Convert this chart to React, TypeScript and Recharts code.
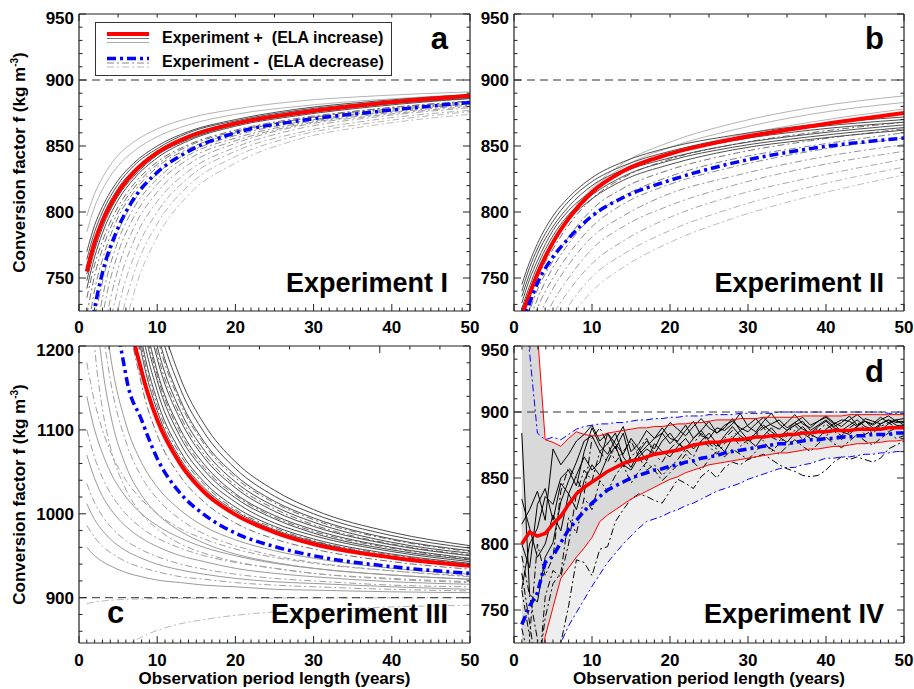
import React from "react";
import { ComposedChart, Line, Area, XAxis, YAxis, ReferenceLine, Legend } from "recharts";

const FONT = '"Liberation Sans", Arial, Helvetica, sans-serif';
const FRAME = "#222";
const AXIS_LINE = { stroke: FRAME, strokeWidth: 1.2 };
const DASH_DOT = "7 3 2 3";
const BLUE_DASH = "9 4 3 4";

// ticks
const X_TICKS = Array.from({ length: 51 }, (_, i) => i);
const Y_TICKS_F = Array.from({ length: 23 }, (_, i) => 730 + i * 10);
const Y_TICKS_C = Array.from({ length: 18 }, (_, i) => 860 + i * 20);

// ---------- panel a (Experiment I) ----------
const X_AB = [1, 2, 3, 5, 7, 10, 14, 20, 28, 38, 50];

const A_RED = [755, 777, 793, 815, 830, 845, 857, 867, 875, 882, 888];
const A_BLUE = [689, 727, 754, 788, 810, 830, 846, 860, 869, 876, 883];
const A_PLUS_DARK = [
  [770, 790, 804, 824, 837, 850, 861, 870, 878, 884, 889],
  [764, 785, 800, 821, 835, 848, 860, 869, 877, 883, 888],
  [759, 780, 796, 818, 832, 846, 858, 868, 876, 882, 888],
  [753, 776, 792, 815, 830, 845, 857, 867, 875, 882, 887],
  [748, 771, 788, 812, 827, 843, 855, 866, 874, 881, 886],
  [742, 766, 784, 809, 825, 841, 854, 865, 873, 880, 886],
];
const A_PLUS_LIGHT = [
  [797, 814, 826, 843, 853, 863, 871, 878, 884, 888, 891],
  [785, 804, 817, 835, 846, 857, 866, 874, 880, 885, 889],
];
const A_MINUS = [
  [735, 760, 778, 804, 821, 838, 851, 862, 871, 878, 884],
  [722, 752, 772, 800, 818, 836, 850, 861, 870, 878, 884],
  [704, 741, 764, 796, 815, 834, 848, 860, 870, 877, 883],
  [665, 716, 747, 785, 808, 829, 845, 858, 868, 876, 882],
  [638, 699, 735, 778, 803, 825, 843, 856, 867, 875, 882],
  [603, 677, 720, 769, 796, 821, 840, 854, 866, 874, 881],
  [559, 650, 700, 757, 788, 815, 836, 852, 865, 873, 880],
  [507, 617, 677, 743, 778, 808, 831, 849, 863, 872, 879],
  [445, 578, 649, 726, 766, 800, 826, 846, 860, 870, 877],
  [375, 534, 618, 707, 753, 791, 820, 842, 858, 868, 876],
  [296, 484, 583, 686, 738, 781, 813, 837, 855, 866, 874],
];

// ---------- panel b (Experiment II) ----------
const B_RED = [722, 738, 753, 777, 795, 815, 831, 844, 855, 865, 875];
const B_BLUE = [715, 731, 746, 766, 780, 797, 811, 824, 837, 848, 856];
const B_PLUS_DARK = [
  [745, 762, 776, 797, 811, 826, 838, 849, 858, 866, 872],
  [740, 758, 772, 793, 808, 823, 835, 846, 856, 864, 870],
  [736, 753, 768, 789, 804, 820, 832, 844, 854, 862, 868],
  [731, 749, 763, 786, 801, 816, 830, 841, 851, 859, 866],
  [727, 744, 759, 782, 798, 813, 827, 839, 849, 857, 864],
  [722, 740, 755, 778, 794, 810, 824, 836, 847, 855, 862],
];
const B_PLUS_LIGHT = [
  [715, 735, 752, 778, 797, 818, 837, 853, 867, 879, 888],
  [718, 738, 754, 779, 797, 817, 834, 849, 862, 874, 883],
  [720, 740, 755, 779, 796, 815, 831, 845, 857, 868, 878],
];
const B_MINUS = [
  [718, 735, 750, 772, 790, 810, 826, 840, 851, 860, 868],
  [706, 725, 741, 763, 781, 802, 818, 832, 844, 854, 863],
  [698, 718, 734, 758, 776, 796, 812, 827, 840, 850, 860],
  [689, 710, 727, 750, 768, 789, 806, 821, 834, 846, 856],
  [677, 699, 717, 742, 760, 781, 797, 814, 827, 840, 851],
  [664, 688, 707, 732, 750, 772, 789, 805, 820, 834, 846],
  [649, 676, 695, 722, 740, 761, 778, 796, 812, 826, 840],
  [635, 663, 684, 711, 729, 751, 768, 786, 803, 819, 834],
  [620, 650, 672, 700, 718, 740, 758, 777, 795, 812, 828],
];

// ---------- panel c (Experiment III) ----------
const X_C = [1, 2, 3, 4, 6, 8, 10, 13, 16, 20, 25, 30, 40, 50];

const C_RED = [null, null, 2120, 1500, 1265, 1170, 1112, 1059, 1026, 999, 978, 964, 948, 938];
const C_BLUE = [null, null, 1853, 1330, 1165, 1112, 1066, 1024, 999, 977, 961, 950, 937, 929];
const C_UPPER_SOLID = [
  [null, null, 2167, 1660, 1322, 1192, 1123, 1065, 1031, 1003, 981, 967, 949, 939],
  [null, null, 2233, 1700, 1344, 1208, 1135, 1074, 1038, 1008, 985, 970, 952, 941],
  [null, null, 2300, 1740, 1367, 1223, 1147, 1083, 1045, 1014, 989, 974, 955, 943],
  [null, null, 2367, 1780, 1389, 1238, 1159, 1091, 1052, 1019, 994, 977, 957, 945],
  [null, null, 2433, 1820, 1411, 1254, 1170, 1100, 1059, 1024, 998, 981, 960, 947],
  [null, null, 2513, 1868, 1438, 1272, 1185, 1111, 1067, 1031, 1003, 985, 963, 950],
  [null, null, 2600, 1920, 1467, 1292, 1200, 1122, 1076, 1038, 1009, 990, 966, 953],
  [null, null, 2700, 1980, 1500, 1315, 1218, 1135, 1086, 1046, 1015, 995, 970, 956],
  [null, null, 2800, 2040, 1533, 1338, 1235, 1148, 1097, 1054, 1021, 1000, 974, 959],
  [null, null, 2900, 2100, 1567, 1361, 1253, 1161, 1107, 1062, 1028, 1005, 978, 962],
];
const C_UPPER_DASH = [
  [null, null, 2000, 1560, 1267, 1154, 1094, 1044, 1014, 989, 970, 958, 943, 934],
  [null, null, 2200, 1680, 1333, 1200, 1129, 1070, 1035, 1005, 983, 968, 951, 940],
  [null, null, 2400, 1800, 1400, 1246, 1165, 1096, 1055, 1022, 996, 979, 959, 946],
  [null, null, 2553, 1892, 1451, 1281, 1192, 1116, 1071, 1034, 1006, 987, 964, 951],
  [null, null, 2667, 1960, 1489, 1308, 1212, 1131, 1083, 1043, 1013, 993, 969, 955],
];
const C_LOWER_SOLID = [
  [1450, 1267, 1175, 1120, 1057, 1022, 1000, 979, 965, 952, 942, 935, 927, 922],
  [1625, 1383, 1263, 1190, 1107, 1061, 1032, 1004, 985, 969, 956, 947, 935, 928],
  [1140, 1100, 1072, 1050, 1020, 1000, 986, 971, 960, 950, 941, 935, 927, 922],
  [1070, 1042, 1021, 1006, 985, 971, 961, 950, 943, 935, 929, 925, 919, 916],
  [1012, 993, 980, 970, 956, 947, 940, 933, 928, 923, 919, 917, 913, 910],
  [960, 950, 943, 938, 930, 925, 921, 918, 915, 913, 910, 909, 907, 906],
];
const C_LOWER_DASH = [
  [1550, 1333, 1225, 1160, 1086, 1044, 1018, 993, 976, 962, 950, 942, 932, 925],
  [1350, 1200, 1125, 1080, 1029, 1000, 982, 964, 953, 943, 935, 929, 922, 918],
  [1180, 1133, 1100, 1075, 1040, 1017, 1000, 982, 970, 958, 948, 941, 932, 926],
  [1100, 1067, 1043, 1025, 1000, 983, 971, 959, 950, 942, 935, 929, 923, 919],
  [1036, 1013, 997, 985, 968, 957, 949, 940, 934, 928, 923, 920, 915, 913],
  [986, 972, 961, 954, 943, 936, 931, 925, 922, 918, 915, 913, 910, 908],
];
const C_BELOW = [
  [893, 895, 896, 897, 898, 898.5, 899, 899.2, 899.4, 899.5, 899.6, 899.7, 899.8, 899.9],
  [745, 784, 807, 822, 842, 853, 861, 869, 874, 879, 883, 885, 889, 891],
];

// ---------- panel d (Experiment IV) ----------
const X_D = [
  1, 2, 3, 4, 5, 6, 7, 8, 9, 10, 11, 12, 13, 14, 15, 16, 17, 18, 19, 20, 21, 22, 23, 24, 25,
  26, 27, 28, 29, 30, 31, 32, 33, 34, 35, 36, 37, 38, 39, 40, 41, 42, 43, 44, 45, 46, 47, 48, 49, 50,
];
const D_RED = [800, 809, 806, 808, 815, 821, 830, 838, 843, 847, 851, 855, 858, 861, 863, 864, 866, 868, 869, 870, 871, 873, 875, 876, 877, 877, 878, 879, 879, 880, 881, 881, 882, 882, 883, 883, 884, 884, 885, 885, 886, 886, 886, 887, 887, 887, 887, 888, 888, 888];
const D_BLUE = [739, 753, 763, 786, 791, 801, 811, 818, 825, 831, 836, 841, 844, 847, 850, 852, 854, 856, 857, 859, 860, 862, 863, 865, 866, 867, 869, 870, 871, 872, 873, 874, 875, 876, 876, 877, 878, 879, 879, 880, 880, 881, 881, 882, 882, 883, 883, 883, 884, 884];
const D_RED_HI = [1050, 1000, 960, 879, 877, 874, 880, 885, 883, 882, 882, 884, 885, 886, 887, 888, 888, 889, 889, 890, 891, 891, 892, 892, 893, 894, 894, 894, 895, 895, 895, 896, 896, 896, 896, 896, 897, 897, 897, 897, 897, 897, 898, 898, 898, 898, 898, 898, 898, 898];
const D_RED_LO = [600, 650, 690, 730, 752, 774, 782, 790, 797, 805, 817, 822, 826, 830, 834, 837, 840, 843, 846, 849, 851, 854, 856, 858, 860, 861, 862, 863, 864, 865, 866, 867, 868, 869, 869, 870, 871, 872, 872, 873, 874, 874, 875, 876, 876, 877, 877, 878, 878, 879];
const D_BLUE_HI = [1000, 945, 884, 879, 881, 879, 883, 887, 889, 890, 891, 891, 892, 892, 893, 894, 894, 895, 895, 896, 896, 897, 897, 897, 898, 898, 898, 898, 899, 899, 899, 899, 899, 900, 900, 900, 900, 900, 900, 900, 900, 900, 900, 900, 900, 900, 900, 899, 899, 899];
const D_BLUE_LO = [560, 600, 640, 670, 700, 725, 738, 748, 758, 768, 777, 786, 793, 800, 806, 812, 817, 819, 821, 824, 826, 829, 831, 834, 837, 840, 842, 844, 846, 849, 851, 853, 855, 857, 858, 858, 860, 861, 863, 865, 865, 866, 866, 867, 868, 868, 869, 869, 870, 870];
// single glaciers (black)
const D_OBS_SOLID = [
  [884, 762, 756, 790, 801, 832, 848, 862, 878, 882, 870, 876, 884, 866, 858, 870, 878, 872, 884, 876, 882, 890, 880, 886, 893, 884, 888, 895, 886, 890, 895, 888, 891, 894, 888, 892, 896, 890, 893, 896, 891, 894, 893, 889, 895, 893, 891, 894, 892, 893],
  [815, 826, 840, 818, 872, 860, 868, 878, 883, 890, 878, 884, 872, 884, 862, 868, 874, 880, 888, 880, 878, 886, 893, 882, 880, 888, 886, 891, 899, 889, 885, 893, 899, 891, 886, 890, 893, 886, 890, 894, 889, 892, 897, 890, 893, 891, 896, 892, 894, 895],
  [800, 782, 830, 842, 818, 846, 838, 852, 866, 856, 862, 884, 876, 868, 880, 872, 863, 876, 870, 866, 874, 880, 872, 878, 884, 876, 870, 880, 886, 879, 874, 882, 888, 881, 877, 884, 889, 883, 880, 887, 891, 885, 883, 889, 893, 888, 886, 891, 894, 890],
  [766, 800, 812, 836, 830, 850, 856, 844, 870, 888, 875, 868, 879, 889, 870, 876, 886, 880, 884, 892, 887, 882, 889, 895, 888, 884, 890, 893, 888, 885, 891, 896, 890, 887, 892, 898, 891, 888, 893, 897, 892, 889, 894, 898, 893, 890, 894, 897, 893, 892],
  [834, 812, 790, 800, 822, 810, 838, 826, 848, 860, 852, 866, 874, 860, 856, 866, 872, 868, 878, 884, 876, 872, 880, 886, 878, 874, 882, 889, 882, 878, 884, 890, 885, 881, 886, 892, 887, 884, 889, 893, 888, 886, 890, 894, 889, 887, 891, 894, 890, 889],
];
const D_OBS_DASH = [
  [791, 761, 728, 700, 715, 725, 753, 788, 786, 776, 796, 798, 817, 826, 834, 838, 836, 833, 831, 840, 849, 846, 842, 851, 856, 850, 858, 862, 860, 864, 866, 868, 864, 860, 857, 855, 852, 851, 852, 856, 862, 866, 864, 866, 864, 862, 865, 872, 875, 878],
  [765, 730, 800, 776, 790, 840, 858, 850, 838, 880, 888, 876, 862, 870, 878, 866, 856, 860, 852, 858, 864, 872, 866, 878, 874, 868, 876, 882, 874, 879, 884, 878, 870, 876, 882, 886, 879, 883, 888, 882, 886, 879, 885, 889, 883, 886, 890, 885, 888, 889],
  [778, 740, 700, 744, 770, 778, 820, 808, 835, 826, 848, 840, 852, 860, 846, 855, 862, 856, 848, 854, 860, 868, 862, 856, 864, 870, 866, 872, 868, 864, 870, 876, 872, 868, 874, 879, 874, 870, 876, 881, 876, 873, 878, 883, 878, 875, 880, 884, 880, 882],
  [736, 710, 690, 760, 780, 775, 800, 838, 856, 848, 870, 862, 874, 858, 866, 872, 880, 868, 862, 872, 878, 870, 876, 884, 876, 872, 880, 886, 880, 876, 883, 888, 881, 878, 884, 890, 884, 880, 886, 891, 886, 882, 888, 892, 887, 884, 889, 892, 888, 890],
];

type Series = (number | null)[];

function family(prefix: string, list: Series[]) {
  const out: Record<string, Series> = {};
  list.forEach((s, i) => (out[`${prefix}${i}`] = s));
  return out;
}

function buildRows(xs: number[], series: Record<string, Series>) {
  return xs.map((x, i) => {
    const r: Record<string, any> = { x };
    Object.keys(series).forEach((k) => (r[k] = series[k][i]));
    return r;
  });
}

const dataA = buildRows(X_AB, {
  red: A_RED,
  blue: A_BLUE,
  ...family("pd", A_PLUS_DARK),
  ...family("pl", A_PLUS_LIGHT),
  ...family("m", A_MINUS),
});
const dataB = buildRows(X_AB, {
  red: B_RED,
  blue: B_BLUE,
  ...family("pd", B_PLUS_DARK),
  ...family("pl", B_PLUS_LIGHT),
  ...family("m", B_MINUS),
});
const dataC = buildRows(X_C, {
  red: C_RED,
  blue: C_BLUE,
  ...family("us", C_UPPER_SOLID),
  ...family("ud", C_UPPER_DASH),
  ...family("ls", C_LOWER_SOLID),
  ...family("ld", C_LOWER_DASH),
  ...family("bw", C_BELOW),
});
const dataD = buildRows(X_D, {
  red: D_RED,
  blue: D_BLUE,
  redHi: D_RED_HI,
  redLo: D_RED_LO,
  blueHi: D_BLUE_HI,
  blueLo: D_BLUE_LO,
  ...family("os", D_OBS_SOLID),
  ...family("od", D_OBS_DASH),
}).map((r, i) => ({
  ...r,
  lightBand: [D_BLUE_LO[i], D_BLUE_HI[i]],
  darkBand: [D_RED_LO[i], D_RED_HI[i]],
}));

function curve(
  key: string,
  color: string,
  width = 1,
  dash?: string,
  type: "monotone" | "linear" = "monotone"
) {
  return (
    <Line
      key={key}
      xAxisId="b"
      yAxisId="l"
      dataKey={key}
      type={type}
      stroke={color}
      strokeWidth={width}
      strokeDasharray={dash}
      dot={false}
      activeDot={false}
      legendType="none"
      isAnimationActive={false}
    />
  );
}

const labelStyle = { fontFamily: FONT, fontWeight: 700, fontSize: 17, fill: "#000" };

const xTick = (labels: boolean, dy: number, dir: number) => (p: any) => {
  const v = p.payload.value;
  const major = v % 10 === 0;
  const len = major ? 7 : 3.5;
  return (
    <g>
      <line x1={p.x} x2={p.x} y1={p.y} y2={p.y - dir * len} stroke={FRAME} strokeWidth={1} />
      {labels && major && (
        <text x={p.x} y={p.y + dy} textAnchor="middle" style={labelStyle}>
          {v}
        </text>
      )}
    </g>
  );
};

const yTick = (labels: boolean, step: number, top: number, dir: number) => (p: any) => {
  const v = p.payload.value;
  const major = v % step === 0;
  const len = major ? 7 : 3.5;
  return (
    <g>
      <line x1={p.x} x2={p.x + dir * len} y1={p.y} y2={p.y} stroke={FRAME} strokeWidth={1} />
      {labels && major && (
        <text x={p.x - 5} y={p.y + (v === top ? 10 : 6)} textAnchor="end" style={labelStyle}>
          {v}
        </text>
      )}
    </g>
  );
};

type PanelProps = {
  left: number;
  top: number;
  width: number;
  height: number;
  yW: number;
  xH: number;
  mTop: number;
  data: any[];
  yDomain: [number, number];
  yTicks: number[];
  yMajor: number;
  xLabelDy: number;
  clip?: string;
  children: React.ReactNode;
};

function Panel(props: PanelProps) {
  const { left, top, width, height, yW, xH, mTop, data, yDomain, yTicks, yMajor, xLabelDy, clip, children } = props;
  return (
    <div style={{ position: "absolute", left, top, width, height, clipPath: clip }}>
      <ComposedChart width={width} height={height} data={data} margin={{ top: mTop, right: 10, bottom: 0, left: 0 }}>
        <XAxis
          xAxisId="b"
          dataKey="x"
          type="number"
          domain={[0, 50]}
          ticks={X_TICKS}
          interval={0}
          allowDataOverflow
          height={xH}
          tickSize={0}
          tickMargin={0}
          tickLine={false}
          axisLine={AXIS_LINE}
          tick={xTick(true, xLabelDy, 1)}
        />
        <XAxis
          xAxisId="t"
          orientation="top"
          type="number"
          domain={[0, 50]}
          ticks={X_TICKS}
          interval={0}
          allowDataOverflow
          height={1}
          tickSize={0}
          tickMargin={0}
          tickLine={false}
          axisLine={AXIS_LINE}
          tick={xTick(false, 0, -1)}
        />
        <YAxis
          yAxisId="l"
          type="number"
          domain={yDomain}
          ticks={yTicks}
          interval={0}
          allowDataOverflow
          width={yW}
          tickSize={0}
          tickMargin={0}
          tickLine={false}
          axisLine={AXIS_LINE}
          tick={yTick(true, yMajor, yDomain[1], 1)}
        />
        <YAxis
          yAxisId="r"
          orientation="right"
          type="number"
          domain={yDomain}
          ticks={yTicks}
          interval={0}
          allowDataOverflow
          width={1}
          tickSize={0}
          tickMargin={0}
          tickLine={false}
          axisLine={AXIS_LINE}
          tick={yTick(false, yMajor, yDomain[1], -1)}
        />
        {children}
        <ReferenceLine xAxisId="b" yAxisId="l" y={900} stroke="#333" strokeWidth={1} strokeDasharray="8 5" />
      </ComposedChart>
    </div>
  );
}

function LegendBox() {
  const t = { fontFamily: FONT, fontWeight: 700, fontSize: 16, fill: "#000", whiteSpace: "pre" as const };
  return (
    <div style={{ width: 297, height: 54, border: "1px solid #333", background: "#fff", boxSizing: "border-box" }}>
      <svg width={295} height={52}>
        <line x1={11} x2={53} y1={11} y2={11} stroke="#ff0000" strokeWidth={4} />
        <line x1={11} x2={53} y1={15.5} y2={15.5} stroke="#777" strokeWidth={1} />
        <line x1={11} x2={53} y1={19.5} y2={19.5} stroke="#aaa" strokeWidth={1} />
        <text x={66} y={19.5} style={t}>
          {"Experiment +  (ELA increase)"}
        </text>
        <line x1={11} x2={53} y1={35.5} y2={35.5} stroke="#0000ff" strokeWidth={3.5} strokeDasharray={BLUE_DASH} />
        <line x1={11} x2={53} y1={40} y2={40} stroke="#888" strokeWidth={1} strokeDasharray={DASH_DOT} />
        <line x1={11} x2={53} y1={44} y2={44} stroke="#bbb" strokeWidth={1} strokeDasharray={DASH_DOT} />
        <text x={66} y={44} style={t}>
          {"Experiment -  (ELA decrease)"}
        </text>
      </svg>
    </div>
  );
}

function minusShade(i: number, n: number) {
  const g = Math.round(110 + (i / Math.max(1, n - 1)) * 80);
  return `rgb(${g},${g},${g})`;
}

export default function App() {
  const txt = { fontFamily: FONT, fontWeight: 700, fill: "#000" };
  return (
    <div style={{ position: "absolute", left: 0, top: 0, width: 914, height: 689, background: "#fff", overflow: "hidden" }}>
      {/* a */}
      <Panel left={0} top={0} width={481} height={342} yW={79} xH={31} mTop={13} data={dataA}
        yDomain={[725, 950]} yTicks={Y_TICKS_F} yMajor={50} xLabelDy={22}>
        {A_MINUS.map((_, i) => curve(`m${i}`, minusShade(i, A_MINUS.length), 1, DASH_DOT))}
        {A_PLUS_LIGHT.map((_, i) => curve(`pl${i}`, "#b4b4b4", 1))}
        {A_PLUS_DARK.map((_, i) => curve(`pd${i}`, "#505050", 1))}
        {curve("red", "#ff0000", 4)}
        {curve("blue", "#0000ff", 3.5, BLUE_DASH)}
        <Legend
          layout="vertical"
          align="center"
          verticalAlign="middle"
          wrapperStyle={{ left: 95, top: 22, width: 297, height: 54 }}
          content={() => <LegendBox />}
        />
      </Panel>
      {/* b */}
      <Panel left={440} top={0} width={475} height={342} yW={74} xH={31} mTop={13} data={dataB}
        yDomain={[725, 950]} yTicks={Y_TICKS_F} yMajor={50} xLabelDy={22}>
        {B_MINUS.map((_, i) => curve(`m${i}`, minusShade(i, B_MINUS.length), 1, DASH_DOT))}
        {B_PLUS_LIGHT.map((_, i) => curve(`pl${i}`, "#b4b4b4", 1))}
        {B_PLUS_DARK.map((_, i) => curve(`pd${i}`, "#505050", 1))}
        {curve("red", "#ff0000", 4)}
        {curve("blue", "#0000ff", 3.5, BLUE_DASH)}
      </Panel>
      {/* c */}
      <Panel left={0} top={330} width={481} height={359} yW={79} xH={46} mTop={15} data={dataC}
        yDomain={[846, 1200]} yTicks={Y_TICKS_C} yMajor={100} xLabelDy={23}>
        {C_BELOW.map((_, i) => curve(`bw${i}`, "#b8b8b8", 1, DASH_DOT))}
        {C_LOWER_DASH.map((_, i) => curve(`ld${i}`, "#a0a0a0", 1, DASH_DOT))}
        {C_LOWER_SOLID.map((_, i) => curve(`ls${i}`, "#9a9a9a", 1))}
        {C_UPPER_DASH.map((_, i) => curve(`ud${i}`, "#6e6e6e", 1, DASH_DOT))}
        {C_UPPER_SOLID.map((_, i) => curve(`us${i}`, "#4a4a4a", 1))}
        {curve("red", "#ff0000", 4)}
        {curve("blue", "#0000ff", 3.5, BLUE_DASH)}
      </Panel>
      {/* d */}
      <Panel left={440} top={330} width={475} height={359} yW={74} xH={46} mTop={15} data={dataD}
        yDomain={[725, 950]} yTicks={Y_TICKS_F} yMajor={50} xLabelDy={23}
        clip="polygon(0px 0px, 466px 0px, 466px 308px, 475px 308px, 475px 359px, 0px 359px)">
        <Area xAxisId="b" yAxisId="l" dataKey="lightBand" type="linear" stroke="none" fill="#eeeeee"
          fillOpacity={1} dot={false} activeDot={false} legendType="none" isAnimationActive={false} />
        <Area xAxisId="b" yAxisId="l" dataKey="darkBand" type="linear" stroke="none" fill="#d9d9d9"
          fillOpacity={1} dot={false} activeDot={false} legendType="none" isAnimationActive={false} />
        {D_OBS_DASH.map((_, i) => curve(`od${i}`, "#000", 1, DASH_DOT, "linear"))}
        {D_OBS_SOLID.map((_, i) => curve(`os${i}`, "#000", 1, undefined, "linear"))}
        {curve("redHi", "#ff0000", 1, undefined, "linear")}
        {curve("redLo", "#ff0000", 1, undefined, "linear")}
        {curve("blueHi", "#0000ff", 1, DASH_DOT, "linear")}
        {curve("blueLo", "#0000ff", 1, DASH_DOT, "linear")}
        {curve("red", "#ff0000", 3.5, undefined, "linear")}
        {curve("blue", "#0000ff", 3.5, BLUE_DASH, "linear")}
      </Panel>

      <svg width={914} height={689} style={{ position: "absolute", left: 0, top: 0, pointerEvents: "none" }}>
        <text x={448} y={49} fontSize={31} textAnchor="end" style={txt}>a</text>
        <text x={448} y={292} fontSize={27} textAnchor="end" style={txt}>Experiment I</text>
        <text x={884} y={49} fontSize={31} textAnchor="end" style={txt}>b</text>
        <text x={884} y={292} fontSize={27} textAnchor="end" style={txt}>Experiment II</text>
        <text x={107} y={623} fontSize={31} textAnchor="start" style={txt}>c</text>
        <text x={448} y={623} fontSize={27} textAnchor="end" style={txt}>Experiment III</text>
        <text x={884} y={382} fontSize={31} textAnchor="end" style={txt}>d</text>
        <text x={884} y={623} fontSize={27} textAnchor="end" style={txt}>Experiment IV</text>

        <text x={274.5} y={684} fontSize={17} textAnchor="middle" style={txt}>Observation period length (years)</text>
        <text x={709} y={684} fontSize={17} textAnchor="middle" style={txt}>Observation period length (years)</text>

        {[162.5, 494.5].map((cy) => (
          <text key={cy} transform={`translate(25,${cy}) rotate(-90)`} fontSize={17} textAnchor="middle" style={txt}>
            Conversion factor f (kg m<tspan fontSize={10} dy={-7}>-3</tspan>
            <tspan dy={7}>)</tspan>
          </text>
        ))}
      </svg>
    </div>
  );
}
